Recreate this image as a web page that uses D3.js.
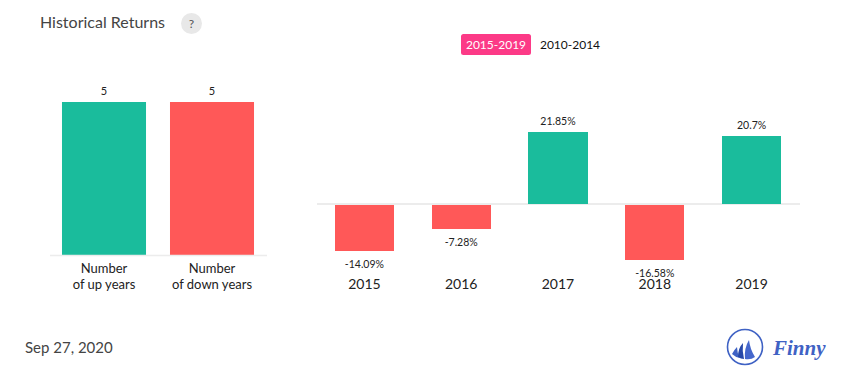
<!DOCTYPE html>
<html>
<head>
<meta charset="utf-8">
<script src="https://cdn.jsdelivr.net/npm/d3@7/dist/d3.min.js"></script>
<style>
  html, body { margin: 0; padding: 0; background: #fff; }
  svg { display: block; font-family: Lato, sans-serif; }
</style>
</head>
<body>
<svg id="chart" width="855" height="382"></svg>
<script>
const countLabels = [["Number", "of up years"], ["Number", "of down years"]];
const countValues = [5, 5];
const countColours = ["#1abc9c", "#ff5858"];

const years = ["2015", "2016", "2017", "2018", "2019"];
const returns = [-14.09, -7.28, 21.85, -16.58, 20.7];

const periods = ["2015-2019", "2010-2014"];

const GREEN = "#1abc9c", RED = "#ff5858", AXIS = "#ececec";

const svg = d3.select("#chart");

// header
svg.append("text").attr("x", 40).attr("y", 28)
   .attr("font-size", 16).attr("fill", "#444").text("Historical Returns");
svg.append("circle").attr("cx", 191.5).attr("cy", 23.5).attr("r", 10.5).attr("fill", "#e8e8e8");
svg.append("text").attr("x", 191.5).attr("y", 28).attr("text-anchor", "middle")
   .attr("font-size", 12).attr("fill", "#555").text("?");

// period toggle
svg.append("rect").attr("x", 461).attr("y", 34).attr("width", 70).attr("height", 21)
   .attr("rx", 2.5).attr("fill", "#fc3a87");
svg.selectAll(".period").data(periods).enter().append("text")
   .attr("class", "period")
   .attr("x", (d, i) => i === 0 ? 496 : 570)
   .attr("y", 49)
   .attr("text-anchor", "middle")
   .attr("font-size", 12)
   .attr("fill", (d, i) => i === 0 ? "#fff" : "#111")
   .text(d => d);

// left chart: up / down year counts
const xCount = d3.scaleBand()
    .domain(countLabels.map((d, i) => i))
    .range([50, 266])
    .paddingInner(0.222)
    .paddingOuter(0.111);
const yCount = d3.scaleLinear().domain([0, 5]).range([255, 102]);

svg.append("g").selectAll("rect").data(countValues).enter().append("rect")
   .attr("x", (d, i) => xCount(i))
   .attr("y", d => yCount(d))
   .attr("width", xCount.bandwidth())
   .attr("height", d => yCount(0) - yCount(d))
   .attr("fill", (d, i) => countColours[i]);

svg.append("line").attr("x1", 50).attr("x2", 267).attr("y1", 255.5).attr("y2", 255.5)
   .attr("stroke", AXIS).attr("stroke-width", 1.5);

svg.append("g").selectAll("text").data(countValues).enter().append("text")
   .attr("x", (d, i) => xCount(i) + xCount.bandwidth() / 2)
   .attr("y", d => yCount(d) - 7)
   .attr("text-anchor", "middle")
   .attr("font-size", 11)
   .attr("fill", "#222")
   .text(d => d);

const countAxis = svg.append("g").selectAll("text").data(countLabels).enter().append("text")
   .attr("text-anchor", "middle")
   .attr("font-size", 13)
   .attr("fill", "#222");
countAxis.each(function (d, i) {
    d3.select(this).selectAll("tspan").data(d).enter().append("tspan")
      .attr("x", xCount(i) + xCount.bandwidth() / 2)
      .attr("y", (l, j) => 273 + j * 16)
      .text(l => l);
});

// right chart: yearly returns
const xYear = d3.scaleBand()
    .domain(years)
    .range([316, 800])
    .paddingInner(0.39)
    .paddingOuter(0.195);
const yReturn = d3.scaleLinear().domain([0, 21.85]).range([204.5, 132]);

svg.append("line").attr("x1", 317).attr("x2", 800).attr("y1", 204).attr("y2", 204)
   .attr("stroke", AXIS).attr("stroke-width", 2);

svg.append("g").selectAll("rect").data(returns).enter().append("rect")
   .attr("x", (d, i) => xYear(years[i]))
   .attr("y", d => d >= 0 ? yReturn(d) : 205)
   .attr("width", xYear.bandwidth())
   .attr("height", d => d >= 0 ? 204 - yReturn(d) : yReturn(d) - 205)
   .attr("fill", d => d >= 0 ? GREEN : RED)
   .attr("shape-rendering", "crispEdges");

svg.append("g").selectAll("text").data(returns).enter().append("text")
   .attr("x", (d, i) => xYear(years[i]) + xYear.bandwidth() / 2)
   .attr("y", d => d >= 0 ? yReturn(d) - 7 : yReturn(d) + 17)
   .attr("text-anchor", "middle")
   .attr("font-size", 10.5)
   .attr("fill", "#222")
   .text(d => d + "%");

svg.append("g").selectAll("text").data(years).enter().append("text")
   .attr("x", d => xYear(d) + xYear.bandwidth() / 2)
   .attr("y", 289)
   .attr("text-anchor", "middle")
   .attr("font-size", 14)
   .attr("fill", "#222")
   .text(d => d);

// footer
svg.append("text").attr("x", 25).attr("y", 353)
   .attr("font-size", 15).attr("fill", "#444").text("Sep 27, 2020");

// logo
const logo = svg.append("g").attr("transform", "translate(745,347)");
logo.append("circle").attr("r", 17.5).attr("fill", "none").attr("stroke", "#3f62c4").attr("stroke-width", 1.6);
logo.append("path").attr("d", "M-13,7 Q-11,3 -8,0 Q-8,6 -5,11 Q-10,10 -13,7Z").attr("fill", "#3f62c4");
logo.append("path").attr("d", "M-7,10 Q-7,1 -2,-4 Q-3,4 -1,12 Q-4,12 -7,10Z").attr("fill", "#2748a8");
logo.append("path").attr("d", "M0,12 Q-1,1 4,-7 Q5,2 10,10 Q6,13 0,12Z").attr("fill", "#4567cc");
svg.append("text").attr("x", 773).attr("y", 355)
   .attr("font-family", "'Liberation Serif', serif")
   .attr("font-style", "italic").attr("font-weight", 700)
   .attr("font-size", 21).attr("fill", "#3f62c4").text("Finny");
</script>
</body>
</html>
